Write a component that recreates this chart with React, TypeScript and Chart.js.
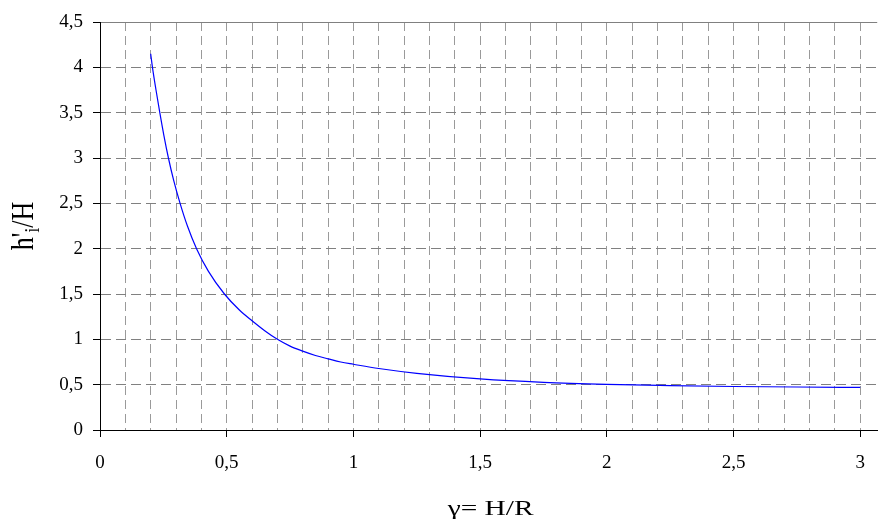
import React, { useEffect, useRef } from 'react';
import { Chart, registerables } from 'chart.js';

Chart.register(...registerables);

// gamma = H/R
const xValues = [0.2, 0.207, 0.221, 0.236, 0.252, 0.27, 0.291, 0.316, 0.345, 0.381, 0.428, 0.491, 0.55, 0.6, 0.65, 0.7, 0.75, 0.8, 0.85, 0.9, 0.95, 1.0, 1.1, 1.25, 1.5, 1.75, 2.0, 2.25, 2.5, 2.75, 3.0];
// h'i/H
const yValues = [4.15, 4.0, 3.75, 3.5, 3.25, 3.0, 2.75, 2.5, 2.25, 2.0, 1.75, 1.5, 1.323, 1.205, 1.095, 1.0, 0.925, 0.87, 0.822, 0.785, 0.75, 0.725, 0.678, 0.625, 0.563, 0.525, 0.503, 0.49, 0.48, 0.474, 0.47];

const xMin = 0;
const xMax = 3.067;
const xGridStep = 0.1;
const xLabelStep = 0.5;
const yMin = 0;
const yMax = 4.5;
const yStep = 0.5;

const xTitle = 'γ= H/R';
const yTitleMain = "h'";
const yTitleSub = 'i';
const yTitleEnd = '/H';

const fmt = (v: number) => {
  const r = Math.round(v * 1000) / 1000;
  return String(r).replace('.', ',');
};
const isLabelX = (v: number) => Math.abs(v / xLabelStep - Math.round(v / xLabelStep)) < 1e-6;

const titlesPlugin = {
  id: 'titles',
  afterDraw(chart: any) {
    const ctx = chart.ctx;
    const area = chart.chartArea;
    ctx.save();
    ctx.fillStyle = '#000';
    // x title
    ctx.font = '21px "Liberation Serif", "Times New Roman", serif';
    ctx.textAlign = 'center';
    ctx.textBaseline = 'alphabetic';
    ctx.save();
    ctx.translate((area.left + area.right) / 2 + 2, 515);
    ctx.scale(1.4, 1);
    ctx.fillText(xTitle, 0, 0);
    ctx.restore();

    // y title (rotated, with subscript)
    ctx.save();
    ctx.translate(33, (area.top + area.bottom) / 2);
    ctx.scale(1.2, 1);
    ctx.rotate(-Math.PI / 2);
    ctx.textAlign = 'left';
    const mainFont = '26px "Liberation Serif", "Times New Roman", serif';
    const subFont = '17px "Liberation Serif", "Times New Roman", serif';
    ctx.font = mainFont;
    const w1 = ctx.measureText(yTitleMain).width;
    const w3 = ctx.measureText(yTitleEnd).width;
    ctx.font = subFont;
    const w2 = ctx.measureText(yTitleSub).width;
    const total = w1 + w2 + w3;
    let sx = -total / 2;
    ctx.font = mainFont;
    ctx.fillText(yTitleMain, sx, 0);
    sx += w1;
    ctx.font = subFont;
    ctx.fillText(yTitleSub, sx, 5);
    sx += w2;
    ctx.font = mainFont;
    ctx.fillText(yTitleEnd, sx, 0);
    ctx.restore();
    ctx.restore();
  },
};

export default function App() {
  const ref = useRef<HTMLCanvasElement | null>(null);

  useEffect(() => {
    document.body.style.margin = '0';
    const canvas = ref.current;
    if (!canvas) return;
    const tickFont = { family: '"Liberation Serif", "Times New Roman", serif', size: 19 };
    const chart = new Chart(canvas, {
      type: 'line',
      data: {
        datasets: [
          {
            data: xValues.map((x, i) => ({ x, y: yValues[i] })),
            borderColor: '#0000ff',
            borderWidth: 1.2,
            pointRadius: 0,
            fill: false,
            cubicInterpolationMode: 'monotone',
          },
        ],
      },
      options: {
        responsive: false,
        animation: false,
        layout: { padding: { top: 22, left: 0, right: 0, bottom: 0 } },
        plugins: {
          legend: { display: false },
          tooltip: { enabled: false },
        },
        scales: {
          x: {
            type: 'linear',
            min: xMin,
            max: xMax,
            afterFit: (scale: any) => {
              scale.height = 89;
            },
            ticks: {
              stepSize: xGridStep,
              includeBounds: false,
              autoSkip: false,
              maxRotation: 0,
              minRotation: 0,
              padding: 15,
              color: '#000',
              font: tickFont,
              callback: (v: any) => (isLabelX(Number(v)) ? fmt(Number(v)) : ''),
            },
            grid: {
              color: (c: any) => (c.tick && Math.abs(c.tick.value) < 1e-9 ? 'rgba(0,0,0,0)' : '#9a9a9a'),
              lineWidth: 1,
              drawTicks: true,
              tickLength: 7,
              tickWidth: 1,
              tickColor: (c: any) => (c.tick && isLabelX(c.tick.value) ? '#000' : 'rgba(0,0,0,0)'),
            },
            border: {
              display: true,
              color: '#000',
              width: 1,
              dash: (c: any) => (c.tick && Math.abs(c.tick.value) > 1e-9 ? [9, 5] : []),
            },
          },
          y: {
            type: 'linear',
            min: yMin,
            max: yMax,
            afterFit: (scale: any) => {
              scale.width = 100;
            },
            ticks: {
              stepSize: yStep,
              padding: 10,
              color: '#000',
              font: tickFont,
              callback: (v: any) => fmt(Number(v)),
            },
            grid: {
              color: (c: any) => (c.tick && Math.abs(c.tick.value) < 1e-9 ? 'rgba(0,0,0,0)' : '#808080'),
              lineWidth: 1,
              drawTicks: true,
              tickLength: 7,
              tickWidth: 1,
              tickColor: '#000',
            },
            border: {
              display: true,
              color: '#000',
              width: 1,
              dash: (c: any) =>
                c.tick && c.tick.value > 1e-9 && c.tick.value < yMax - 1e-9 ? [10, 5] : [],
            },
          },
        },
      },
      plugins: [titlesPlugin],
    } as any);
    return () => chart.destroy();
  }, []);

  return (
    <div style={{ position: 'absolute', left: 0, top: 0, width: 880, height: 519 }}>
      <canvas ref={ref} width={880} height={519} style={{ display: 'block' }} />
    </div>
  );
}
